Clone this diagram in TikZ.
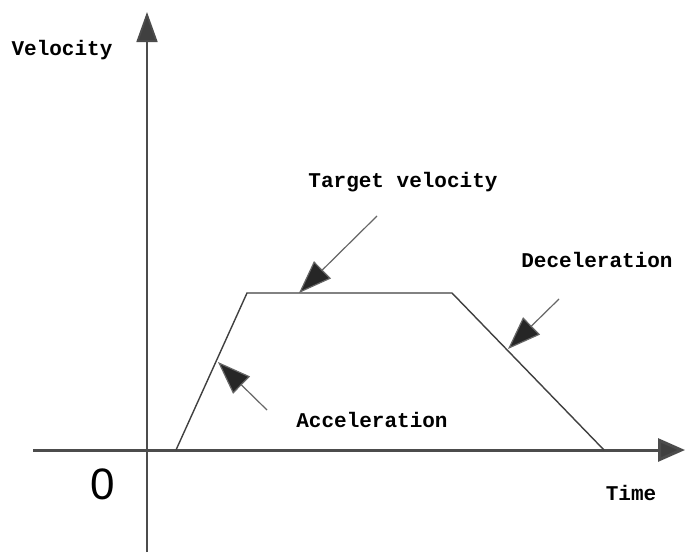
\documentclass[tikz,border=0pt]{standalone}
\usepackage{fontspec}
\newfontfamily\monob{Liberation Mono}
\newfontfamily\sansf{Liberation Sans}
\usetikzlibrary{arrows.meta}
\tikzset{
  axis/.style={draw=black!70, line width=2pt},
  curve/.style={draw=black!75, line width=1.4pt},
  pointer/.style={draw=black!60, line width=1.2pt, -{Triangle[length=33pt,width=24pt,fill=black!85]}},
  lbl/.style={font=\monob\bfseries\fontsize{21}{25}\selectfont, inner sep=0pt},
}
\begin{document}
\begin{tikzpicture}[x=1pt,y=-1pt]
\useasboundingbox[fill=white] (0,0) rectangle (685,554);
% axes
\coordinate (ybot) at (147,552);
\coordinate (ytop) at (147,12);
\coordinate (xl) at (33,450);
\coordinate (xr) at (685,450);
\draw[axis, line width=1.8pt, -{Triangle[length=30pt,width=21pt,fill=black!75]}] (ybot) -- (ytop);
\draw[axis, line width=3pt, -{Triangle[length=27pt,width=23pt,fill=black!75]}] (xl) -- (xr);
% trapezoid
\coordinate (p0) at (176,450);
\coordinate (p1) at (247,293);
\coordinate (p2) at (452,293);
\coordinate (p3) at (604,450);
\draw[curve] (p0) -- (p1) -- (p2) -- (p3);
% pointers
\coordinate (ts) at (377,216);
\coordinate (te) at (299,293);
\coordinate (ds) at (559,299);
\coordinate (de) at (508,349);
\coordinate (as) at (267,410);
\coordinate (ae) at (218,362);
\draw[pointer] (ts) -- (te);
\draw[pointer] (ds) -- (de);
\draw[pointer] (as) -- (ae);
% labels
\node[lbl] (vel) at (62,50) {Velocity};
\node[lbl] (tgt) at (403,182) {Target velocity};
\node[lbl] (dec) at (597,260) {Deceleration};
\node[lbl] (acc) at (372,420) {Acceleration};
\node[lbl] (time) at (631,493) {Time};
\node[font=\sansf\fontsize{44}{50}\selectfont, inner sep=0pt] (zero) at (103,484) {0};
\end{tikzpicture}
\end{document}
